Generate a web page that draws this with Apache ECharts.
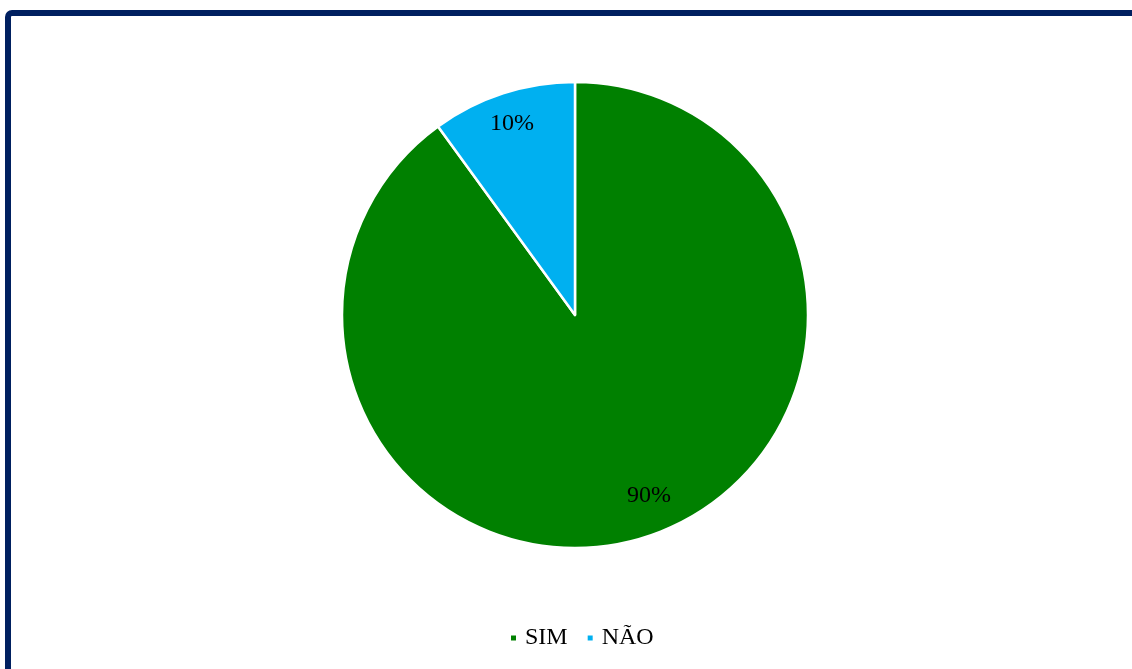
<!DOCTYPE html>
<html>
<head>
<meta charset="utf-8">
<script src="https://cdn.jsdelivr.net/npm/echarts@6/dist/echarts.min.js"></script>
<style>
  html, body { margin: 0; padding: 0; background: #fff; overflow: hidden; }
  #wrap { position: relative; width: 1132px; height: 669px; }
  #chart { position: absolute; left: 0; top: 0; width: 1132px; height: 669px; }
  #frame {
    position: absolute; left: 5px; top: 10px; width: 1140px; height: 700px;
    border: 6px solid #002060; border-radius: 7px; box-sizing: border-box;
    pointer-events: none;
  }
</style>
</head>
<body>
<div id="wrap">
  <div id="chart"></div>
  <div id="frame"></div>
</div>
<script>
// Answer shares (percent)
const categories = ['SIM', 'N\u00C3O'];
const values = [90, 10];
const colors = ['#008000', '#00B0F0'];

const FONT = '"Liberation Serif", "Times New Roman", serif';

// Nudges for the value labels, moving them from mid-radius toward the rim
const labelOffsets = [[37, 67], [-26, -78]];

const data = categories.map((name, i) => ({
  name,
  value: values[i],
  itemStyle: { color: colors[i] },
  label: { offset: labelOffsets[i] }
}));

const chart = echarts.init(document.getElementById('chart'), null, { renderer: 'canvas' });
chart.setOption({
  backgroundColor: '#ffffff',
  animation: false,
  legend: {
    data: categories,
    top: 621,
    left: 504,
    icon: 'rect',
    itemWidth: 7,
    itemHeight: 7,
    itemGap: 18,
    textStyle: { fontFamily: FONT, fontSize: 24, color: '#000', padding: [0, 0, 0, 3] }
  },
  series: [{
    type: 'pie',
    center: [575, 315],
    radius: [0, 233],
    startAngle: 90,
    clockwise: true,
    data,
    itemStyle: { borderColor: '#ffffff', borderWidth: 2.5 },
    label: {
      show: true,
      position: 'inside',
      formatter: '{c}%',
      fontFamily: FONT,
      fontSize: 24,
      color: '#000'
    },
    labelLine: { show: false },
    emphasis: { disabled: true }
  }]
});
</script>
</body>
</html>
